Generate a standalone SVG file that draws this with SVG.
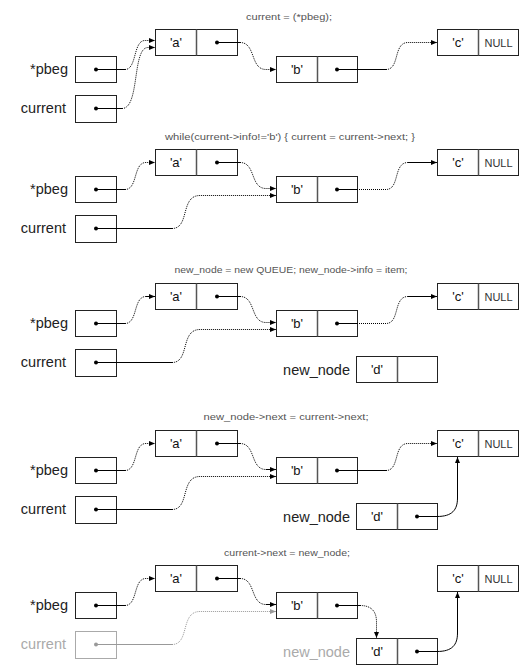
<svg xmlns="http://www.w3.org/2000/svg" width="520" height="667" viewBox="0 0 520 667">
<style>
text{font-family:"Liberation Sans",Arial,sans-serif}
.box{fill:#fff;stroke:#222;stroke-width:1}
.dv{stroke:#555;stroke-width:1.5}
.lbl{font-size:14.5px;fill:#222;text-anchor:end}
.val{font-size:13px;fill:#111;text-anchor:middle}
.nul{font-size:11px;fill:#333;text-anchor:middle}
.ttl{font-size:9.5px;fill:#555;text-anchor:middle}
.pt{fill:#000}
.s{fill:none;stroke:#000;stroke-width:1}
.d{fill:none;stroke:#000;stroke-width:1;stroke-dasharray:1 1}
.gry .box{stroke:#aaa}
.gry .lbl{fill:#aaa}
.gry .pt{fill:#999}
.gc .s,.gc .d{stroke:#999}
</style>
<defs>
<marker id="ah" markerUnits="userSpaceOnUse" markerWidth="6" markerHeight="6" refX="6" refY="3" orient="auto"><path d="M0,0.5 L6,3 L0,5.5 z" fill="#000"/></marker>
<marker id="ahg" markerUnits="userSpaceOnUse" markerWidth="6" markerHeight="6" refX="6" refY="3" orient="auto"><path d="M0,0.5 L6,3 L0,5.5 z" fill="#999"/></marker>
</defs>

<!-- Panel 1 -->
<g id="panel1">
<text class="ttl" x="289" y="20" textLength="86" lengthAdjust="spacingAndGlyphs">current = (*pbeg);</text>
<g id="p1-pbeg"><text class="lbl" x="68" y="74">*pbeg</text><rect class="box" x="75.5" y="56.5" width="41" height="26"/><circle class="pt" cx="96" cy="69.5" r="2"/></g>
<g id="p1-current"><text class="lbl" x="66" y="113">current</text><rect class="box" x="75.5" y="95.5" width="41" height="27"/><circle class="pt" cx="96" cy="108.5" r="2"/></g>
<g id="p1-a"><rect class="box" x="155.5" y="29.5" width="82" height="26"/><line class="dv" x1="196.5" y1="29.5" x2="196.5" y2="55.5"/><text class="val" x="176" y="47">'a'</text><circle class="pt" cx="217" cy="42.5" r="2"/></g>
<g id="p1-b"><rect class="box" x="276.5" y="56.5" width="81" height="26"/><line class="dv" x1="317.5" y1="56.5" x2="317.5" y2="82.5"/><text class="val" x="297" y="74">'b'</text><circle class="pt" cx="337" cy="69.5" r="2"/></g>
<g id="p1-c"><rect class="box" x="437.5" y="29.5" width="81" height="26"/><line class="dv" x1="478.5" y1="29.5" x2="478.5" y2="55.5"/><text class="val" x="458" y="47">'c'</text><text class="nul" x="498.5" y="46.5">NULL</text></g>
<g id="p1-connectors">
<path class="s" d="M96 69.5 H125"/><path class="d" d="M125 69.5 C137 69.5 133 40.5 145 40.5 H155" marker-end="url(#ah)"/>
<path class="s" d="M96 108.5 H122"/><path class="d" d="M122 108.5 C140 108.5 132 47.5 148 47.5 H155" marker-end="url(#ah)"/>
<path class="s" d="M217 42.5 H240"/><path class="d" d="M240 42.5 C256 42.5 250 69.5 266 69.5 H276" marker-end="url(#ah)"/>
<path class="s" d="M337 69.5 H386"/><path class="d" d="M386 69.5 C400 69.5 393 42.5 408 42.5 H437" marker-end="url(#ah)"/>
</g>
</g>

<!-- Panel 2 -->
<g id="panel2" transform="translate(0,120)">
<text class="ttl" x="290" y="20" textLength="250" lengthAdjust="spacingAndGlyphs">while(current-&gt;info!='b') { current = current-&gt;next; }</text>
<g id="p2-pbeg"><text class="lbl" x="68" y="74">*pbeg</text><rect class="box" x="75.5" y="56.5" width="41" height="26"/><circle class="pt" cx="96" cy="69.5" r="2"/></g>
<g id="p2-current"><text class="lbl" x="66" y="113">current</text><rect class="box" x="75.5" y="95.5" width="41" height="27"/><circle class="pt" cx="96" cy="108.5" r="2"/></g>
<g id="p2-a"><rect class="box" x="155.5" y="29.5" width="82" height="26"/><line class="dv" x1="196.5" y1="29.5" x2="196.5" y2="55.5"/><text class="val" x="176" y="47">'a'</text><circle class="pt" cx="217" cy="42.5" r="2"/></g>
<g id="p2-b"><rect class="box" x="276.5" y="56.5" width="81" height="26"/><line class="dv" x1="317.5" y1="56.5" x2="317.5" y2="82.5"/><text class="val" x="297" y="74">'b'</text><circle class="pt" cx="337" cy="69.5" r="2"/></g>
<g id="p2-c"><rect class="box" x="437.5" y="29.5" width="81" height="26"/><line class="dv" x1="478.5" y1="29.5" x2="478.5" y2="55.5"/><text class="val" x="458" y="47">'c'</text><text class="nul" x="498.5" y="46.5">NULL</text></g>
<g id="p2-connectors">
<path class="s" d="M96 69.5 H125"/><path class="d" d="M125 69.5 C138 69.5 133 42.5 146 42.5 H155" marker-end="url(#ah)"/>
<path class="s" d="M96 108.5 H172"/><path class="d" d="M172 108.5 C190 108.5 180 75.5 200 75.5 H276" marker-end="url(#ah)"/>
<path class="s" d="M217 42.5 H240"/><path class="d" d="M240 42.5 C256 42.5 250 68.5 266 68.5 H276" marker-end="url(#ah)"/>
<path class="s" d="M337 69.5 H357"/><path class="d" d="M357 69.5 H386 C400 69.5 393 42.5 408 42.5"/><path class="s" d="M408 42.5 H437" marker-end="url(#ah)"/>
</g>
</g>

<!-- Panel 3 -->
<g id="panel3" transform="translate(0,254)">
<text class="ttl" x="291" y="19" textLength="233" lengthAdjust="spacingAndGlyphs">new_node = new QUEUE; new_node-&gt;info = item;</text>
<g id="p3-pbeg"><text class="lbl" x="68" y="74">*pbeg</text><rect class="box" x="75.5" y="56.5" width="41" height="26"/><circle class="pt" cx="96" cy="69.5" r="2"/></g>
<g id="p3-current"><text class="lbl" x="66" y="113">current</text><rect class="box" x="75.5" y="95.5" width="41" height="27"/><circle class="pt" cx="96" cy="108.5" r="2"/></g>
<g id="p3-a"><rect class="box" x="155.5" y="29.5" width="82" height="26"/><line class="dv" x1="196.5" y1="29.5" x2="196.5" y2="55.5"/><text class="val" x="176" y="47">'a'</text><circle class="pt" cx="217" cy="42.5" r="2"/></g>
<g id="p3-b"><rect class="box" x="276.5" y="56.5" width="81" height="26"/><line class="dv" x1="317.5" y1="56.5" x2="317.5" y2="82.5"/><text class="val" x="297" y="74">'b'</text><circle class="pt" cx="337" cy="69.5" r="2"/></g>
<g id="p3-c"><rect class="box" x="437.5" y="29.5" width="81" height="26"/><line class="dv" x1="478.5" y1="29.5" x2="478.5" y2="55.5"/><text class="val" x="458" y="47">'c'</text><text class="nul" x="498.5" y="46.5">NULL</text></g>
<g id="p3-new_node"><text class="lbl" x="350" y="121">new_node</text><rect class="box" x="356.5" y="102.5" width="81" height="26"/><line class="dv" x1="397.5" y1="102.5" x2="397.5" y2="128.5"/><text class="val" x="377" y="120">'d'</text></g>
<g id="p3-connectors">
<path class="s" d="M96 69.5 H125"/><path class="d" d="M125 69.5 C138 69.5 133 42.5 146 42.5"/><path class="s" d="M146 42.5 H155" marker-end="url(#ah)"/>
<path class="s" d="M96 108.5 H172"/><path class="d" d="M172 108.5 C190 108.5 180 75.5 200 75.5 H276" marker-end="url(#ah)"/>
<path class="s" d="M217 42.5 H240"/><path class="d" d="M240 42.5 C256 42.5 250 68.5 266 68.5 H276" marker-end="url(#ah)"/>
<path class="s" d="M337 69.5 H357"/><path class="d" d="M357 69.5 H386 C400 69.5 393 42.5 408 42.5"/><path class="s" d="M408 42.5 H437" marker-end="url(#ah)"/>
</g>
</g>

<!-- Panel 4 -->
<g id="panel4" transform="translate(0,401)">
<text class="ttl" x="286" y="19" textLength="165" lengthAdjust="spacingAndGlyphs">new_node-&gt;next = current-&gt;next;</text>
<g id="p4-pbeg"><text class="lbl" x="68" y="74">*pbeg</text><rect class="box" x="75.5" y="56.5" width="41" height="26"/><circle class="pt" cx="96" cy="69.5" r="2"/></g>
<g id="p4-current"><text class="lbl" x="66" y="113">current</text><rect class="box" x="75.5" y="95.5" width="41" height="27"/><circle class="pt" cx="96" cy="108.5" r="2"/></g>
<g id="p4-a"><rect class="box" x="155.5" y="29.5" width="82" height="26"/><line class="dv" x1="196.5" y1="29.5" x2="196.5" y2="55.5"/><text class="val" x="176" y="47">'a'</text><circle class="pt" cx="217" cy="42.5" r="2"/></g>
<g id="p4-b"><rect class="box" x="276.5" y="56.5" width="81" height="26"/><line class="dv" x1="317.5" y1="56.5" x2="317.5" y2="82.5"/><text class="val" x="297" y="74">'b'</text><circle class="pt" cx="337" cy="69.5" r="2"/></g>
<g id="p4-c"><rect class="box" x="437.5" y="29.5" width="81" height="26"/><line class="dv" x1="478.5" y1="29.5" x2="478.5" y2="55.5"/><text class="val" x="458" y="47">'c'</text><text class="nul" x="498.5" y="46.5">NULL</text></g>
<g id="p4-new_node"><text class="lbl" x="350" y="121">new_node</text><rect class="box" x="356.5" y="102.5" width="81" height="26"/><line class="dv" x1="397.5" y1="102.5" x2="397.5" y2="128.5"/><text class="val" x="377" y="120">'d'</text><circle class="pt" cx="417" cy="115.5" r="2"/></g>
<g id="p4-connectors">
<path class="s" d="M96 69.5 H125"/><path class="d" d="M125 69.5 C138 69.5 133 42.5 146 42.5 H155" marker-end="url(#ah)"/>
<path class="s" d="M96 108.5 H172"/><path class="d" d="M172 108.5 C190 108.5 180 75.5 200 75.5 H276" marker-end="url(#ah)"/>
<path class="s" d="M217 42.5 H240"/><path class="d" d="M240 42.5 C256 42.5 250 68.5 266 68.5"/><path class="s" d="M266 68.5 H276" marker-end="url(#ah)"/>
<path class="s" d="M337 69.5 H386"/><path class="d" d="M386 69.5 C400 69.5 393 42.5 408 42.5 H437" marker-end="url(#ah)"/>
<path class="s" d="M417 115.5 H437 C452 115.5 457.5 109 457.5 97 V56" marker-end="url(#ah)"/>
</g>
</g>

<!-- Panel 5 -->
<g id="panel5" transform="translate(0,536)">
<text class="ttl" x="287" y="20" textLength="126" lengthAdjust="spacingAndGlyphs">current-&gt;next = new_node;</text>
<g id="p5-pbeg"><text class="lbl" x="68" y="74">*pbeg</text><rect class="box" x="75.5" y="56.5" width="41" height="26"/><circle class="pt" cx="96" cy="69.5" r="2"/></g>
<g id="p5-current" class="gry"><text class="lbl" x="66" y="113">current</text><rect class="box" x="75.5" y="95.5" width="41" height="27"/><circle class="pt" cx="96" cy="108.5" r="2"/></g>
<g id="p5-a"><rect class="box" x="155.5" y="29.5" width="82" height="26"/><line class="dv" x1="196.5" y1="29.5" x2="196.5" y2="55.5"/><text class="val" x="176" y="47">'a'</text><circle class="pt" cx="217" cy="42.5" r="2"/></g>
<g id="p5-b"><rect class="box" x="276.5" y="56.5" width="81" height="26"/><line class="dv" x1="317.5" y1="56.5" x2="317.5" y2="82.5"/><text class="val" x="297" y="74">'b'</text><circle class="pt" cx="337" cy="69.5" r="2"/></g>
<g id="p5-c"><rect class="box" x="437.5" y="29.5" width="81" height="26"/><line class="dv" x1="478.5" y1="29.5" x2="478.5" y2="55.5"/><text class="val" x="458" y="47">'c'</text><text class="nul" x="498.5" y="46.5">NULL</text></g>
<g id="p5-new_node"><text class="lbl" x="350" y="121" style="fill:#aaa">new_node</text><rect class="box" x="356.5" y="102.5" width="81" height="26"/><line class="dv" x1="397.5" y1="102.5" x2="397.5" y2="128.5"/><text class="val" x="377" y="120">'d'</text><circle class="pt" cx="417" cy="115.5" r="2"/></g>
<g id="p5-connectors">
<path class="s" d="M96 69.5 H125"/><path class="d" d="M125 69.5 C138 69.5 133 42.5 146 42.5 H155" marker-end="url(#ah)"/>
<g class="gc"><path class="s" d="M96 108.5 H172"/><path class="d" d="M172 108.5 C190 108.5 180 75.5 200 75.5 H276" marker-end="url(#ahg)"/></g>
<path class="s" d="M217 42.5 H240"/><path class="d" d="M240 42.5 C256 42.5 250 68.5 266 68.5"/><path class="s" d="M266 68.5 H276" marker-end="url(#ah)"/>
<path class="s" d="M337 69.5 H360"/><path class="d" d="M360 69.5 C372 69.5 376.5 76 376.5 86 V102" marker-end="url(#ah)"/>
<path class="s" d="M417 115.5 H437 C452 115.5 457.5 109 457.5 97 V56" marker-end="url(#ah)"/>
</g>
</g>
</svg>
